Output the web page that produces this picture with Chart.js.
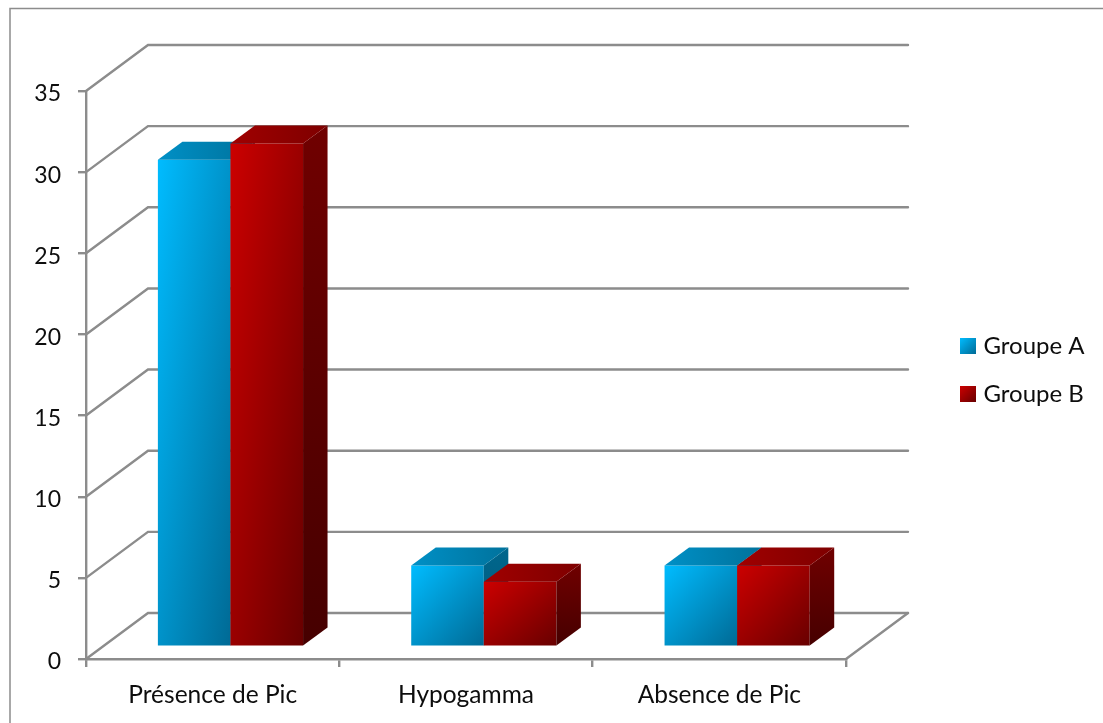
<!DOCTYPE html>
<html>
<head>
<meta charset="utf-8">
<style>
  html, body { margin: 0; padding: 0; background: #fff; }
  canvas { display: block; }
</style>
<script src="https://cdn.jsdelivr.net/npm/chart.js@4"></script>
</head>
<body>
<canvas id="chart" width="1103" height="723"></canvas>
<script>
const categories = ['Présence de Pic', 'Hypogamma', 'Absence de Pic'];
const groupeA = [30, 5, 5];
const groupeB = [31, 4, 5];
const seriesNames = ['Groupe A', 'Groupe B'];

const FONT = 'Lato, Carlito, sans-serif';
const INK = '#0d0d0d';
const GRID = '#8c8c8c';

// Depth of the back wall and of each bar, plus where bars sit on the floor.
const WALL = { dx: 62, dy: -46 };
const DEPTH = { dx: 24.5, dy: -18 };
const BAR_SHIFT = { dx: 17.8, dy: -12.4 };

// Legend placement and swatch geometry.
const LEGEND = { left: 940.5, top: 310, padding: 24, box: 7, stroke: 9, font: 24 };

const PALETTES = [
  { front: ['#00bcff', '#006a95'], top: ['#0090c6', '#00729c'], side: ['#00668c', '#005a7c'] },
  { front: ['#cc0000', '#680000'], top: ['#a00000', '#7e0000'], side: ['#700000', '#460000'] }
];

// Diagonal gradient whose mid stop runs through the two opposite corners of the box.
function boxGradient(ctx, x, y, w, h, stops) {
  const k = 2 * w * h / (w * w + h * h);
  const g = ctx.createLinearGradient(x, y, x + k * h, y + k * w);
  g.addColorStop(0, stops[0]);
  g.addColorStop(1, stops[1]);
  return g;
}

function face(ctx, pts, fill) {
  ctx.beginPath();
  pts.forEach((p, i) => i ? ctx.lineTo(p[0], p[1]) : ctx.moveTo(p[0], p[1]));
  ctx.closePath();
  ctx.fillStyle = fill;
  ctx.fill();
}

const perspective = {
  id: 'perspective',
  beforeDraw(chart) {
    const ctx = chart.ctx;

    // Frame around the figure; it runs off the right and bottom edges.
    ctx.save();
    ctx.strokeStyle = '#8c8c8c';
    ctx.lineWidth = 1.5;
    ctx.beginPath();
    ctx.moveTo(10, 723);
    ctx.lineTo(10, 8.5);
    ctx.lineTo(1103, 8.5);
    ctx.stroke();
    ctx.restore();

    // Legend sits right of the floor, with gradient swatches.
    const legend = chart.legend;
    const w = legend.width, h = legend.height;
    legend.left = LEGEND.left; legend.right = LEGEND.left + w;
    legend.top = LEGEND.top; legend.bottom = LEGEND.top + h;
    const size = LEGEND.box + LEGEND.stroke;
    legend.legendItems.forEach((item, i) => {
      const bx = LEGEND.left + LEGEND.padding - LEGEND.stroke / 2;
      const by = LEGEND.top + LEGEND.padding + (LEGEND.font - LEGEND.box - LEGEND.stroke) / 2
        + i * (LEGEND.font + LEGEND.padding);
      const fill = boxGradient(ctx, bx, by, size, size, PALETTES[i].front);
      item.fillStyle = fill;
      item.strokeStyle = fill;
      item.lineWidth = LEGEND.stroke;
      item.lineJoin = 'miter';
    });
  },
  beforeDatasetsDraw(chart) {
    const ctx = chart.ctx;
    const { x: xs, y: ys } = chart.scales;
    const left = xs.left, right = xs.right;

    // Back wall, side wall and floor rules follow the value axis ticks.
    ctx.save();
    ctx.strokeStyle = GRID;
    ctx.lineWidth = 2.4;
    ctx.lineCap = 'round';
    ys.ticks.forEach(t => {
      const py = ys.getPixelForValue(t.value);
      ctx.beginPath();
      ctx.moveTo(left, py);
      ctx.lineTo(left + WALL.dx, py + WALL.dy);
      ctx.lineTo(right + WALL.dx, py + WALL.dy);
      ctx.stroke();
    });
    const floor = ys.getPixelForValue(0);
    ctx.beginPath();
    ctx.moveTo(right, floor);
    ctx.lineTo(right + WALL.dx, floor + WALL.dy);
    ctx.stroke();
    ctx.restore();

    // Series are painted left to right so the later bar overlaps the earlier one.
    ctx.save();
    ctx.translate(BAR_SHIFT.dx, BAR_SHIFT.dy);
    chart.getSortedVisibleDatasetMetas().forEach(meta => {
      const pal = PALETTES[meta.index];
      meta.data.forEach(bar => {
        const { x, y, base, width } = bar.getProps(['x', 'y', 'base', 'width'], true);
        bar.options = Object.assign({}, bar.options, {
          backgroundColor: boxGradient(ctx, x - width / 2, y, width, base - y, pal.front)
        });
      });
      meta.controller.draw();
      meta.data.forEach(bar => {
        const { x, y, base, width } = bar.getProps(['x', 'y', 'base', 'width'], true);
        const l = x - width / 2, r = x + width / 2;
        const d = DEPTH;
        const side = ctx.createLinearGradient(0, y + d.dy, 0, base);
        side.addColorStop(0, pal.side[0]);
        side.addColorStop(1, pal.side[1]);
        face(ctx, [[r, y], [r + d.dx, y + d.dy], [r + d.dx, base + d.dy], [r, base]], side);
        const top = ctx.createLinearGradient(l, 0, r + d.dx, 0);
        top.addColorStop(0, pal.top[0]);
        top.addColorStop(1, pal.top[1]);
        face(ctx, [[l, y], [l + d.dx, y + d.dy], [r + d.dx, y + d.dy], [r, y]], top);
      });
    });
    ctx.restore();
    return false;
  }
};

new Chart(document.getElementById('chart'), {
  type: 'bar',
  data: {
    labels: categories,
    datasets: [
      { label: seriesNames[0], data: groupeA, backgroundColor: PALETTES[0].front[0] },
      { label: seriesNames[1], data: groupeB, backgroundColor: PALETTES[1].front[0] }
    ]
  },
  plugins: [perspective],
  options: {
    responsive: false,
    animation: false,
    categoryPercentage: 0.573,
    barPercentage: 1,
    layout: { padding: { top: 91, right: 257, left: 0, bottom: 0 } },
    plugins: {
      title: { display: false },
      tooltip: { enabled: false },
      legend: {
        position: 'chartArea',
        align: 'start',
        labels: {
          boxWidth: LEGEND.box,
          boxHeight: LEGEND.box,
          padding: LEGEND.padding,
          color: INK,
          font: { family: FONT, size: LEGEND.font }
        }
      }
    },
    scales: {
      x: {
        afterFit(s) { s.height = 64; },
        grid: { drawOnChartArea: false, color: GRID, lineWidth: 2.4, tickLength: 8 },
        border: { color: GRID, width: 2.4 },
        ticks: { color: INK, padding: 13, font: { family: FONT, size: 24.5 }, maxRotation: 0 }
      },
      y: {
        min: 0,
        max: 35,
        afterFit(s) { s.width = 86; },
        grid: { drawOnChartArea: false, color: GRID, lineWidth: 2.4, tickLength: 8 },
        border: { color: GRID, width: 2.4 },
        ticks: { stepSize: 5, color: INK, padding: 17, labelOffset: 3, font: { family: FONT, size: 23 } }
      }
    }
  }
});
</script>
</body>
</html>
